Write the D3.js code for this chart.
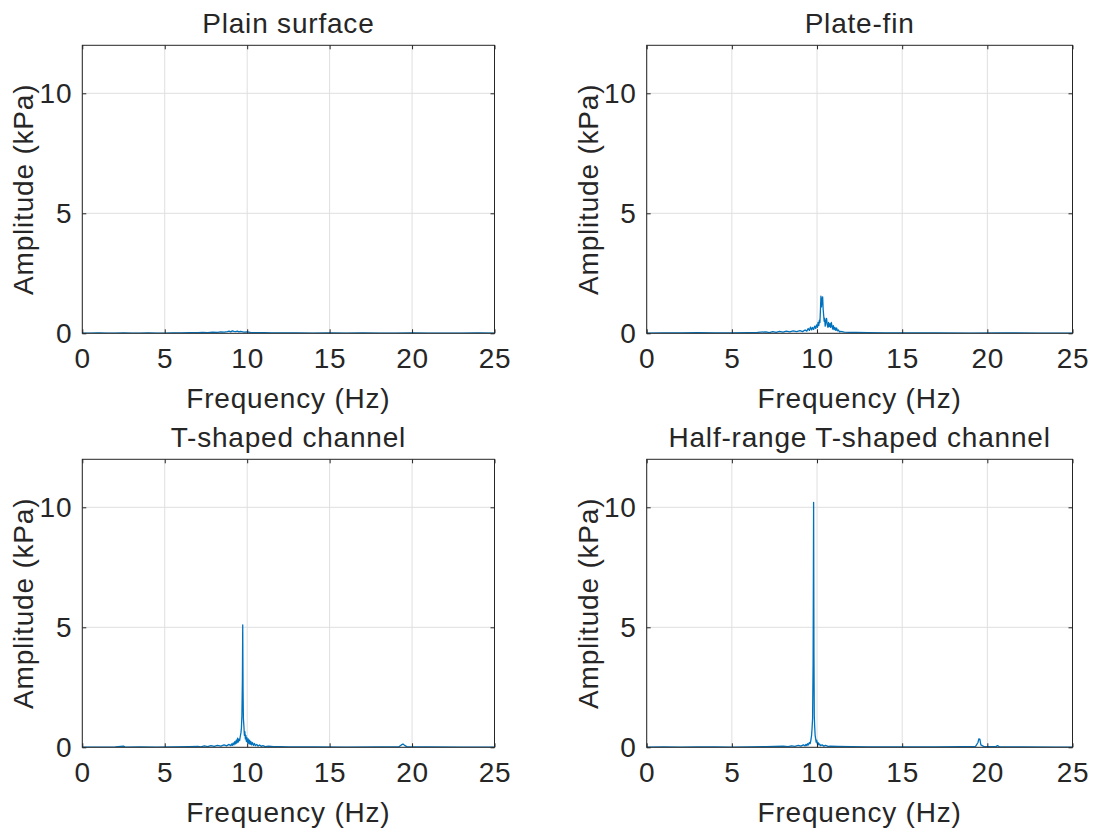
<!DOCTYPE html>
<html>
<head>
<meta charset="utf-8">
<script src="https://cdn.jsdelivr.net/npm/d3@7"></script>
<style>
  body { margin: 0; background: #fff; }
  svg { display: block; font-family: "Liberation Sans", Arial, Helvetica, sans-serif; }
  .tick text { fill: #262626; font-size: 28px; letter-spacing: 0.8px; }
  .lbl { fill: #262626; font-size: 28px; letter-spacing: 0.8px; }
</style>
</head>
<body>
<svg id="chart"></svg>
<script>
////////////////////////////
//  data
////////////////////////////
var titles = ['Plain surface', 'Plate-fin', 'T-shaped channel', 'Half-range T-shaped channel'];
var xTicks = [0, 5, 10, 15, 20, 25];
var yTicks = [0, 5, 10];

// [frequency (Hz), amplitude (kPa)]
var plainSpectrum = [
  [0,0.01],[0.5,0.01],[1,0.02],[1.5,0.01],[2,0.01],[2.5,0.02],[3,0.01],[3.5,0.01],[4,0.02],[4.5,0.01],
  [5,0.01],[5.5,0.02],[6,0.02],[6.5,0.03],[7,0.03],[7.3,0.04],[7.6,0.03],[7.9,0.05],[8.2,0.04],[8.4,0.06],
  [8.6,0.05],[8.8,0.07],[8.9,0.09],[9.0,0.06],[9.1,0.1],[9.2,0.08],[9.3,0.07],[9.4,0.09],[9.5,0.06],[9.6,0.08],
  [9.8,0.05],[10.0,0.06],[10.2,0.04],[10.5,0.03],[11,0.03],[11.5,0.02],[12,0.02],[13,0.02],[14,0.01],[15,0.02],
  [16,0.01],[17,0.02],[18,0.01],[19,0.01],[20,0.02],[21,0.01],[22,0.01],[23,0.01],[24,0.02],[25,0.01]
];

var plateSpectrum = [
  [0,0.01],[1,0.02],[2,0.02],[3,0.03],[4,0.02],[5,0.02],[6,0.03],[6.5,0.04],[7,0.06],[7.2,0.03],
  [7.4,0.07],[7.6,0.04],[7.8,0.08],[8.0,0.05],[8.2,0.09],[8.4,0.06],[8.6,0.1],[8.8,0.07],[9.0,0.11],[9.15,0.07],
  [9.3,0.14],[9.4,0.09],[9.48,0.2],[9.55,0.12],[9.62,0.26],[9.68,0.14],[9.74,0.24],[9.8,0.16],[9.86,0.3],[9.92,0.2],
  [9.97,0.35],[10.02,0.25],[10.06,0.45],[10.1,0.32],[10.14,0.55],[10.17,0.45],[10.2,0.95],[10.23,1.55],[10.26,1.1],[10.29,1.4],
  [10.33,1.52],[10.36,1.0],[10.39,0.75],[10.42,0.5],[10.45,0.62],[10.48,0.3],[10.52,0.5],[10.56,0.62],[10.6,0.35],[10.64,0.25],
  [10.68,0.45],[10.72,0.28],[10.76,0.4],[10.8,0.25],[10.84,0.45],[10.88,0.3],[10.92,0.18],[10.96,0.32],[11.0,0.15],[11.05,0.25],
  [11.1,0.12],[11.15,0.22],[11.2,0.1],[11.26,0.14],[11.32,0.06],[11.4,0.08],[11.6,0.05],[11.9,0.04],[12.3,0.04],[13,0.03],
  [14,0.02],[15,0.02],[17,0.02],[19,0.01],[21,0.02],[23,0.01],[25,0.01]
];

var tSpectrum = [
  [0,0.01],[1,0.01],[2,0.02],[2.5,0.05],[2.6,0.01],[3.5,0.02],[4.5,0.01],[5.5,0.02],[6.5,0.03],[7.0,0.04],
  [7.2,0.02],[7.4,0.06],[7.6,0.03],[7.8,0.07],[8.0,0.04],[8.2,0.08],[8.4,0.05],[8.6,0.1],[8.75,0.06],[8.9,0.12],
  [9.0,0.07],[9.05,0.14],[9.1,0.08],[9.15,0.18],[9.2,0.1],[9.25,0.24],[9.3,0.14],[9.34,0.3],[9.38,0.18],[9.42,0.38],
  [9.46,0.22],[9.5,0.34],[9.54,0.28],[9.58,0.45],[9.62,0.6],[9.65,0.8],[9.68,1.3],[9.71,2.8],[9.73,5.1],[9.75,2.4],
  [9.77,1.2],[9.8,0.9],[9.83,0.5],[9.86,0.65],[9.89,0.35],[9.92,0.5],[9.95,0.25],[9.98,0.4],[10.02,0.2],[10.06,0.35],
  [10.1,0.15],[10.14,0.3],[10.18,0.12],[10.22,0.25],[10.27,0.1],[10.32,0.2],[10.38,0.08],[10.44,0.16],[10.5,0.07],[10.58,0.12],
  [10.66,0.05],[10.75,0.1],[10.85,0.04],[10.95,0.07],[11.1,0.03],[11.3,0.05],[11.6,0.03],[12,0.03],[12.5,0.02],[14,0.02],
  [16,0.01],[18,0.02],[19.2,0.02],[19.35,0.1],[19.45,0.14],[19.55,0.08],[19.7,0.02],[21,0.02],[23,0.01],[25,0.01]
];

var halfSpectrum = [
  [0,0.01],[1,0.02],[2,0.01],[3,0.02],[4,0.02],[5,0.01],[6,0.02],[7,0.03],[7.5,0.04],[8,0.05],
  [8.3,0.03],[8.5,0.06],[8.7,0.04],[8.9,0.08],[9.05,0.05],[9.2,0.1],[9.3,0.06],[9.35,0.12],[9.4,0.07],[9.45,0.15],
  [9.5,0.1],[9.55,0.2],[9.6,0.16],[9.64,0.3],[9.68,0.5],[9.71,0.8],[9.74,1.2],[9.77,3.5],[9.8,10.2],[9.82,4.0],
  [9.84,1.3],[9.86,0.9],[9.89,0.5],[9.92,0.35],[9.95,0.22],[9.98,0.3],[10.02,0.15],[10.06,0.2],[10.1,0.1],[10.15,0.14],
  [10.2,0.07],[10.3,0.1],[10.4,0.05],[10.5,0.08],[10.65,0.04],[10.8,0.05],[11.2,0.04],[12,0.03],[13,0.02],[15,0.02],
  [17,0.02],[18.5,0.03],[19.3,0.03],[19.45,0.2],[19.5,0.35],[19.56,0.34],[19.62,0.1],[19.8,0.03],[20.5,0.03],[20.6,0.07],
  [20.7,0.02],[22,0.02],[24,0.01],[25,0.01]
];

var spectra = [plainSpectrum, plateSpectrum, tSpectrum, halfSpectrum];

////////////////////////////
//  layout
////////////////////////////
var width = 1093;
var height = 830;
var boxes = [
  {left: 82.3, right: 494.5, top: 45.3, bottom: 333.3},
  {left: 646.7, right: 1072.5, top: 45.3, bottom: 333.3},
  {left: 82.3, right: 494.5, top: 459.3, bottom: 747.3},
  {left: 646.7, right: 1072.5, top: 459.3, bottom: 747.3}
];
var ink = '#262626';
var tick = 4;

var svg = d3.select('#chart')
    .attr('width', width)
    .attr('height', height);

svg.append('rect')
    .attr('width', width)
    .attr('height', height)
    .attr('fill', '#fff');

boxes.forEach(function(b, i){
  var w = b.right - b.left;
  var h = b.bottom - b.top;

  var xScale = d3.scaleLinear().domain([0, 25]).range([0, w]);
  var yScale = d3.scaleLinear().domain([0, 12]).range([h, 0]);

  var g = svg.append('g')
      .attr('transform', `translate(${b.left},${b.top})`);

  // grid
  g.append('g')
    .selectAll('line')
    .data(xTicks)
    .enter()
    .append('line')
      .attr('x1', d => xScale(d))
      .attr('x2', d => xScale(d))
      .attr('y1', 0)
      .attr('y2', h)
      .attr('stroke', '#dfdfdf')
      .attr('stroke-width', 1);

  g.append('g')
    .selectAll('line')
    .data(yTicks)
    .enter()
    .append('line')
      .attr('x1', 0)
      .attr('x2', w)
      .attr('y1', d => yScale(d))
      .attr('y2', d => yScale(d))
      .attr('stroke', '#dfdfdf')
      .attr('stroke-width', 1);

  // spectrum
  g.append('clipPath')
      .attr('id', 'clip' + i)
    .append('rect')
      .attr('width', w)
      .attr('height', h);

  var line = d3.line()
      .x(d => xScale(d[0]))
      .y(d => yScale(d[1]));

  g.append('path')
      .datum(spectra[i])
      .attr('clip-path', `url(#clip${i})`)
      .attr('fill', 'none')
      .attr('stroke', '#0072BD')
      .attr('stroke-width', 1.3)
      .attr('stroke-linejoin', 'round')
      .attr('d', line);

  // axes
  g.append('g')
      .attr('transform', `translate(0,${h})`)
      .call(d3.axisBottom(xScale).tickValues(xTicks).tickSizeInner(-tick).tickSizeOuter(0).tickPadding(15));
  g.append('g')
      .call(d3.axisLeft(yScale).tickValues(yTicks).tickSizeInner(-tick).tickSizeOuter(0).tickPadding(10));
  g.append('g')
      .call(d3.axisTop(xScale).tickValues(xTicks).tickSizeInner(-tick).tickSizeOuter(0).tickFormat(''));
  g.append('g')
      .attr('transform', `translate(${w},0)`)
      .call(d3.axisRight(yScale).tickValues(yTicks).tickSizeInner(-tick).tickSizeOuter(0).tickFormat(''));

  g.selectAll('.domain').remove();
  g.selectAll('.tick line').attr('stroke', ink);
  g.selectAll('.tick text').attr('font-family', null).attr('font-size', null);

  g.append('rect')
      .attr('width', w)
      .attr('height', h)
      .attr('fill', 'none')
      .attr('stroke', ink)
      .attr('stroke-width', 1);

  // labels
  g.append('text')
      .attr('class', 'lbl')
      .attr('x', w / 2)
      .attr('y', -12)
      .attr('text-anchor', 'middle')
      .text(titles[i]);

  g.append('text')
      .attr('class', 'lbl')
      .attr('x', w / 2)
      .attr('y', h + 75)
      .attr('text-anchor', 'middle')
      .text('Frequency (Hz)');

  g.append('text')
      .attr('class', 'lbl')
      .attr('transform', `translate(-49,${h / 2}) rotate(-90)`)
      .attr('text-anchor', 'middle')
      .text('Amplitude (kPa)');
});
</script>
</body>
</html>
